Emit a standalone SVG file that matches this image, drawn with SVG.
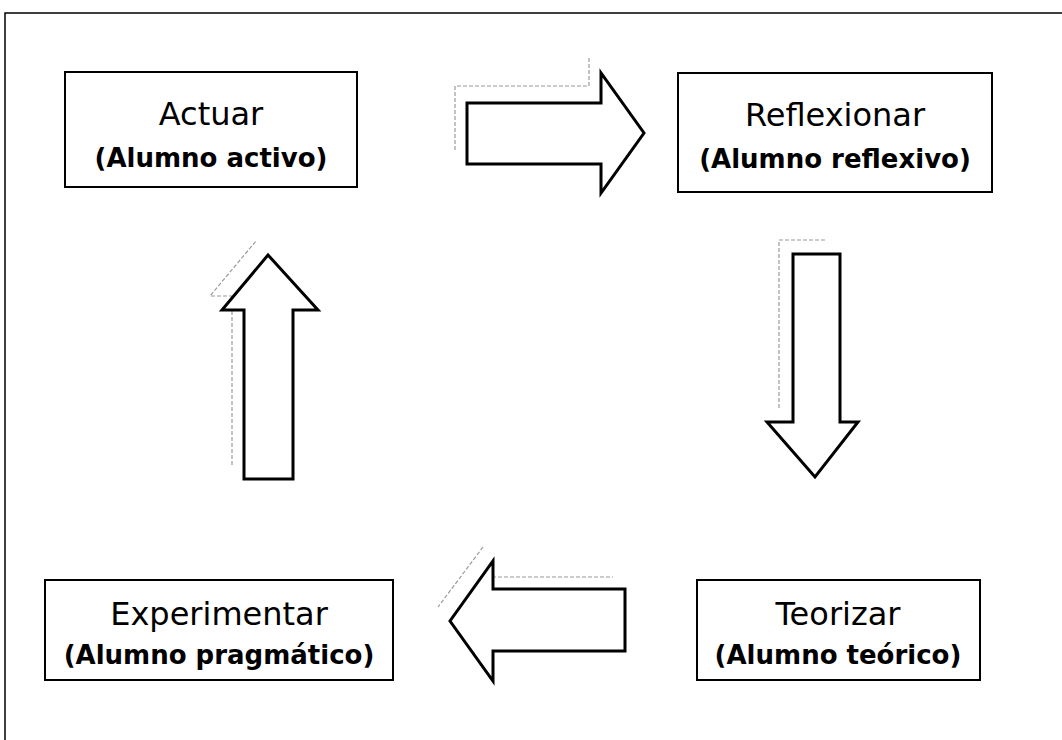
<svg xmlns="http://www.w3.org/2000/svg" width="1062" height="740" viewBox="0 0 1062 740">
<style>
.frame{fill:none;stroke:#000;stroke-width:1.5}
.box{fill:#fff;stroke:#000;stroke-width:2}
.arrow{fill:#fff;stroke:#000;stroke-width:3;stroke-linejoin:miter}
.shadow{fill:none;stroke:#9a9a9a;stroke-width:1.2;stroke-dasharray:4 2}
.t1{font-family:"DejaVu Sans",sans-serif;font-size:32px;text-anchor:middle;fill:#000}
.t2{font-family:"DejaVu Sans",sans-serif;font-size:26px;font-weight:bold;text-anchor:middle;fill:#000}
</style>
<rect width="1062" height="740" fill="#fff"/>
<path class="frame" d="M5,740 V13 H1062"/>
<g id="connectors">
  <polyline class="shadow" points="455,150 455,86 589,86 589,58"/>
  <polygon class="arrow" points="467,103 601,103 601,73 644,133 601,193 601,164 467,164"/>
  <polyline class="shadow" points="779,408 779,240 826,240"/>
  <polygon class="arrow" points="793,254 840,254 840,422 858,422 815,477 767,422 793,422"/>
  <polyline class="shadow" points="232,465 232,296 210,296 256,241"/>
  <polygon class="arrow" points="244,479 293,479 293,310 318,310 268,255 222,310 244,310"/>
  <polyline class="shadow" points="483,574 483,577 613,577"/>
  <polyline class="shadow" points="483,547 438,607"/>
  <polygon class="arrow" points="625,589 493,589 493,561 450,621 493,681 493,651 625,651"/>
</g>
<g id="actuar">
  <rect class="box" x="65" y="72" width="292" height="115"/>
  <text class="t1" x="211" y="125">Actuar</text>
  <text class="t2" x="211" y="167">(Alumno activo)</text>
</g>
<g id="reflexionar">
  <rect class="box" x="678" y="73" width="314" height="119"/>
  <text class="t1" x="835" y="126">Reflexionar</text>
  <text class="t2" x="835" y="168">(Alumno reflexivo)</text>
</g>
<g id="experimentar">
  <rect class="box" x="45" y="580" width="348" height="100"/>
  <text class="t1" x="219" y="625">Experimentar</text>
  <text class="t2" x="219" y="664">(Alumno pragmático)</text>
</g>
<g id="teorizar">
  <rect class="box" x="697" y="580" width="283" height="100"/>
  <text class="t1" x="838" y="625">Teorizar</text>
  <text class="t2" x="838" y="664">(Alumno teórico)</text>
</g>
</svg>
